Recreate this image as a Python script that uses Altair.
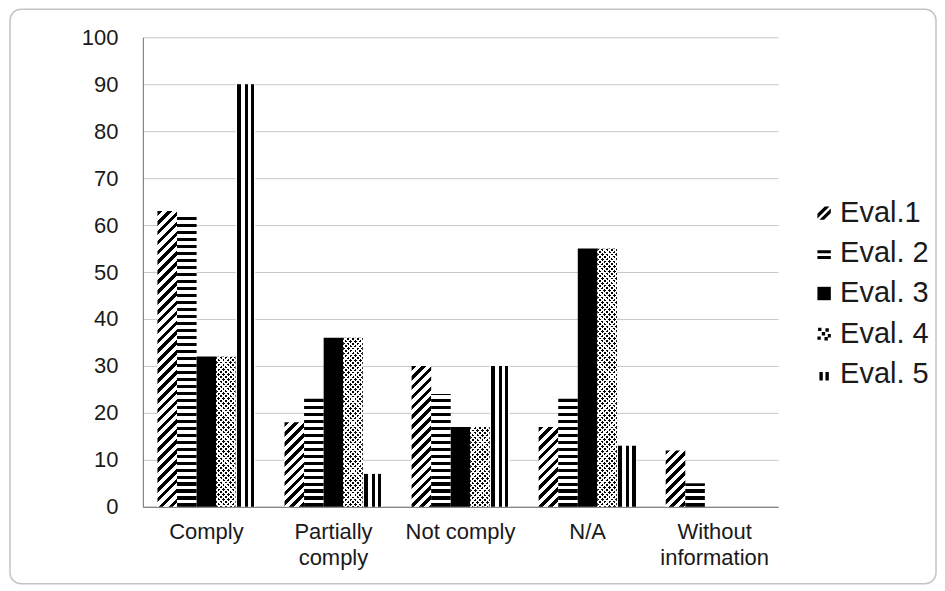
import math
import altair as alt
import pandas as pd

# ---------------- data ----------------
categories = ["Comply", "Partially comply", "Not comply", "N/A", "Without information"]
series = ["Eval.1", "Eval. 2", "Eval. 3", "Eval. 4", "Eval. 5"]
eval1 = [63, 18, 30, 17, 12]
eval2 = [62, 23, 24, 23, 5]
eval3 = [32, 36, 17, 55, 0]
eval4 = [32, 36, 17, 55, 0]
eval5 = [90, 7, 30, 13, 0]
y_ticks = [0, 10, 20, 30, 40, 50, 60, 70, 80, 90, 100]
values_by_series = [eval1, eval2, eval3, eval4, eval5]

rows = [
    {"category": c, "series": s, "value": v}
    for s, vals in zip(series, values_by_series)
    for c, v in zip(categories, vals)
]
df = pd.DataFrame(rows)
leg_df = pd.DataFrame({"series": series})

# ---------------- layout / style ----------------
W, H = 636, 470
PAD_IN = 0.23
FONT = "Liberation Sans"
INK = "#1a1a1a"
BLACK = "#000000"
WHITE = "#ffffff"
CLEAR = "rgba(255,255,255,0)"
step = W / len(categories)
bar_w = step * (1 - PAD_IN) / len(series)


def px_h(v):
    return v / 100.0 * H


def stripe_stops(length, period, dark, c_dark, c_light):
    stops = []
    pos = 0.0
    while pos < length - 1e-9:
        for a, b, col in ((pos, pos + dark, c_dark), (pos + dark, pos + period, c_light)):
            a = min(a, length)
            b = min(b, length)
            if b > a:
                stops.append({"offset": round(a / length, 5), "color": col})
                stops.append({"offset": round(b / length, 5), "color": col})
        pos += period
    return stops


def lin(stops, x1, y1, x2, y2):
    return {"gradient": "linear", "stops": stops, "x1": x1, "y1": y1, "x2": x2, "y2": y2}


def diag(v, period, dark, c_dark, c_light, mirror=False):
    # 45-degree stripes inside a bar of pixel size bar_w x px_h(v)
    h = px_h(v)
    w = bar_w
    k = (w * w + h * h) / (w + h)
    L = (w + h) / math.sqrt(2)
    stops = stripe_stops(L, period, dark, c_dark, c_light)
    if mirror:
        return lin(stops, 1, 0, 1 - w / k, h / k)
    return lin(stops, 0, 0, w / k, h / k)


def horizontal(v):
    return lin(stripe_stops(px_h(v), 7.0, 3.3, BLACK, WHITE), 0, 1, 0, 0)


v_segments = [(0.0, 0.07, WHITE), (0.07, 0.26, BLACK), (0.26, 0.45, WHITE),
              (0.45, 0.62, BLACK), (0.62, 0.79, WHITE), (0.79, 0.95, BLACK), (0.95, 1.0, WHITE)]
v_stops = []
for a, b, col in v_segments:
    v_stops.append({"offset": a, "color": col})
    v_stops.append({"offset": b, "color": col})
vertical = lin(v_stops, 0, 0, 1, 0)

label_expr = (
    "datum.value == 'Partially comply' ? ['Partially', 'comply'] : "
    "datum.value == 'Without information' ? ['Without', 'information'] : datum.value"
)

base = alt.Chart(df).encode(
    x=alt.X(
        "category:N",
        sort=categories,
        scale=alt.Scale(domain=categories, paddingInner=PAD_IN, paddingOuter=PAD_IN / 2),
        axis=alt.Axis(
            title=None, labelAngle=0, ticks=False, grid=False,
            labelFontSize=22, labelPadding=15, labelLineHeight=26,
            labelExpr=label_expr, domainColor="#6e6e6e",
        ),
    ),
    xOffset=alt.XOffset("series:N", scale=alt.Scale(domain=series, paddingInner=0, paddingOuter=0)),
    y=alt.Y(
        "value:Q",
        scale=alt.Scale(domain=[0, 100]),
        axis=alt.Axis(
            title=None, values=y_ticks, ticks=False, gridColor="#c8c8c8",
            labelFontSize=22, labelPadding=25, domainColor="#6e6e6e",
        ),
    ),
)


def one_bar(c, s):
    return base.transform_filter((alt.datum.category == c) & (alt.datum.series == s))


bar_layers = []
# Eval.1: diagonal hatching
for c, v in zip(categories, eval1):
    if v > 0:
        bar_layers.append(one_bar(c, series[0]).mark_bar(fill=diag(v, 7.0, 3.3, BLACK, WHITE)))
# Eval. 2: horizontal stripes
for c, v in zip(categories, eval2):
    if v > 0:
        bar_layers.append(one_bar(c, series[1]).mark_bar(fill=horizontal(v)))
# Eval. 3: solid black
bar_layers.append(
    base.transform_filter((alt.datum.series == series[2]) & (alt.datum.value > 0)).mark_bar(fill=BLACK)
)
# Eval. 4: dotted (crossing diagonal stripes -> staggered dots)
for c, v in zip(categories, eval4):
    if v > 0:
        bar_layers.append(one_bar(c, series[3]).mark_bar(fill=diag(v, 3.4, 1.9, BLACK, WHITE)))
        bar_layers.append(one_bar(c, series[3]).mark_bar(fill=diag(v, 3.4, 1.9, CLEAR, WHITE, mirror=True)))
# Eval. 5: vertical stripes
bar_layers.append(
    base.transform_filter((alt.datum.series == series[4]) & (alt.datum.value > 0)).mark_bar(fill=vertical)
)

border = (
    alt.Chart(df)
    .transform_aggregate(n="count()")
    .mark_rect(fillOpacity=0, stroke="#c4c4c4", strokeWidth=1.5, cornerRadius=11)
    .encode(x=alt.value(-133), x2=alt.value(794), y=alt.value(-28), y2=alt.value(547))
)

# ---------------- legend ----------------
sym_paths = [
    "M-1,0.1L0.1,-1L0.8,-1L-1,0.8Z M-0.7,1L1,-0.7L1,0L0,1Z",
    "M-1,-0.45H1V0H-1Z M-1,0.4H1V0.85H-1Z",
    "M-1,-1H1V1H-1Z",
    "M-0.9,-0.9h0.5v0.5h-0.5Z M0.2,-0.8h0.5v0.5h-0.5Z M-0.35,-0.25h0.5v0.5h-0.5Z "
    "M0.55,0.05h0.45v0.5h-0.45Z M-1,0.4h0.5v0.5h-0.5Z M0.05,0.5h0.5v0.5h-0.5Z",
    "M-0.7,-0.3H-0.2V1H-0.7Z M0.2,-0.3H0.7V1H0.2Z",
]
leg_y = alt.Y("series:N", scale=alt.Scale(domain=series, range=[176, 337], padding=0), axis=None)
sym = alt.Chart(leg_df).mark_point(filled=True, color=BLACK, opacity=1, size=180).encode(
    x=alt.value(682),
    y=leg_y,
    shape=alt.Shape("series:N", scale=alt.Scale(domain=series, range=sym_paths), legend=None),
)
txt = alt.Chart(leg_df).mark_text(
    align="left", baseline="middle", fontSize=29, font=FONT, color=INK
).encode(x=alt.value(698), y=leg_y, text="series:N")

chart = (
    alt.layer(alt.layer(border, *bar_layers), alt.layer(sym, txt))
    .resolve_scale(y="independent")
    .properties(width=W, height=H, padding={"left": 1, "top": 0, "right": 0, "bottom": 0}, background="white")
    .configure_view(strokeWidth=0)
    .configure_axis(labelFont=FONT, labelColor=INK, domainWidth=1)
)

chart.save("out.html", embed_options={"renderer": "svg", "actions": False})
